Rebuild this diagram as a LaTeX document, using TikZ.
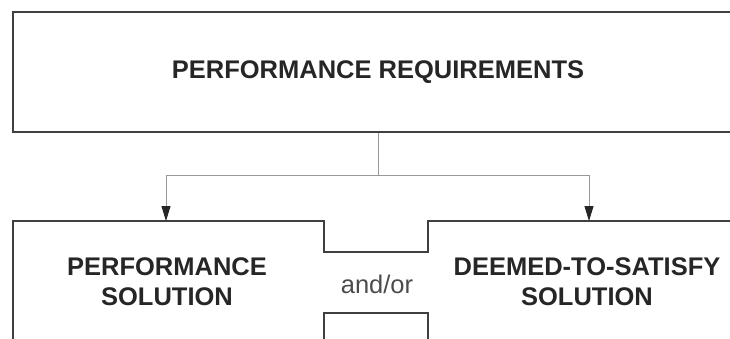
\documentclass[tikz,border=0pt]{standalone}
\usepackage{fontspec}
\setmainfont{Liberation Sans}
\usetikzlibrary{arrows.meta}

\begin{document}
\begin{tikzpicture}[
  x=1pt,y=-1pt,
  every node/.style={scale=1.0},
  heading/.style={font=\fontsize{25.5}{30}\selectfont\bfseries,text=black!85,align=center},
  outline/.style={draw=black!75,line width=2pt},
  link/.style={draw=black!40,line width=1pt},
  arrow/.style={link,-{Triangle[length=15pt,width=9pt,color=black!85]}},
]
\useasboundingbox (0,0) rectangle (730,338);
\clip (0,0) rectangle (730,338);
\node (req) [heading,outline,minimum width=730pt,minimum height=120pt,inner sep=0pt] at (378,72) {PERFORMANCE REQUIREMENTS};

% lower frame with the notch between the two solutions
\draw[outline] (13,345) -- (13,221) -- (324,221) -- (324,252) -- (428,252) -- (428,221) -- (745,221);
\draw[outline] (324,345) -- (324,313) -- (428,313) -- (428,345);

\node (perf) [heading] at (167,282) {PERFORMANCE\\SOLUTION};
\node (dts) [heading] at (587,282) {DEEMED-TO-SATISFY\\SOLUTION};
\node (andor) [font=\fontsize{25.5}{30}\selectfont,text=black!70] at (377,284) {and/or};

\coordinate (split) at (378,175);
\coordinate (perftop) at (166,221);
\coordinate (dtstop) at (589,221);
\draw[link] (req.south) -- (split);
\draw[arrow] (split) -| (perftop);
\draw[arrow] (split) -| (dtstop);
\end{tikzpicture}
\end{document}
